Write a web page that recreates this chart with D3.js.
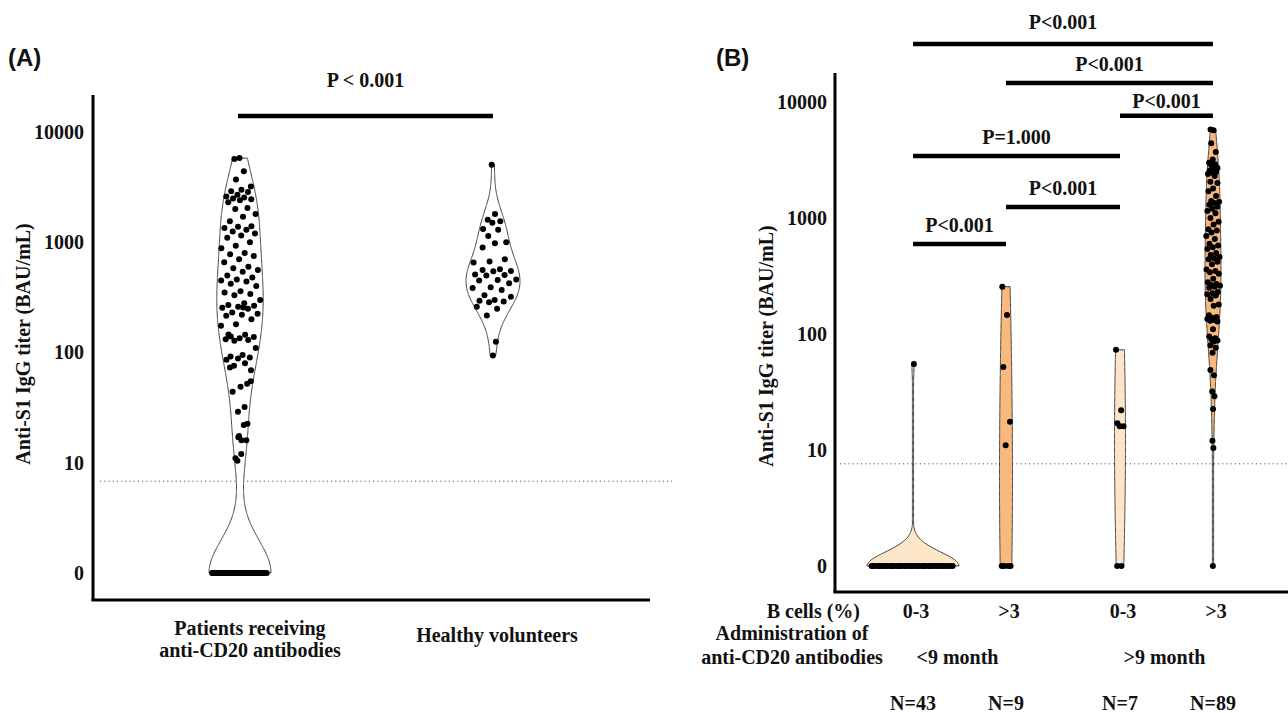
<!DOCTYPE html>
<html>
<head>
<meta charset="utf-8">
<script src="https://cdn.jsdelivr.net/npm/d3@7"></script>
<style>
  body { margin: 0; background: #fff; }
  text { font-family: "Liberation Serif", "Times New Roman", serif; font-weight: bold; fill: #111; font-size: 20px; }
  .panel { font-family: "Liberation Sans", Arial, sans-serif; font-size: 24px; }
</style>
</head>
<body>
<div id="chart"></div>
<script>
// ---- data ----
let tickVals = [1, 10, 100, 1000, 10000]
let tickLabels = ["0", "10", "100", "1000", "10000"]
let yTitle = "Anti-S1 IgG titer (BAU/mL)"

// panel A categories
let groupsA = ["Patients receiving|anti-CD20 antibodies", "Healthy volunteers"]

// panel B groups
let bCells = ["0-3", ">3", "0-3", ">3"]
let adminMonths = ["<9 month", "<9 month", ">9 month", ">9 month"]
let nLabels = ["N=43", "N=9", "N=7", "N=89"]

// titers (BAU/mL), 0 = below detection
let grp1 = [0, 0, 0, 0, 0, 0, 0, 0, 0, 0, 0, 0, 0, 0, 0, 0, 0, 0, 0, 0, 0,
            0, 0, 0, 0, 0, 0, 0, 0, 0, 0, 0, 0, 0, 0, 0, 0, 0, 0, 0, 0, 0, 55]
let grp2 = [256, 146, 52, 17.5, 11, 0, 0, 0, 0]
let grp3 = [73, 22, 17, 16, 16, 0, 0]
let grp4 = [5800, 5700, 4400, 3700, 3200, 3000, 2900, 2850, 2700, 2600,
            2550, 2500, 2450, 2400, 2300, 2050, 2000, 1800, 1700, 1550,
            1400, 1380, 1350, 1300, 1250, 1200, 1150, 1100, 1000, 930,
            880, 800, 780, 750, 700, 660, 600, 580, 560, 540,
            500, 480, 460, 450, 440, 420, 400, 360, 350, 340,
            330, 300, 280, 270, 265, 260, 255, 250, 230, 225,
            220, 215, 200, 180, 175, 145, 140, 138, 135, 132,
            130, 128, 110, 95, 92, 90, 88, 86, 80, 76,
            69, 49, 44, 32, 29, 22.6, 12, 10.4, 0]
let healthy = [5050, 1800, 1600, 1550, 1500, 1320, 1300, 1140, 1000, 980,
               895, 700, 670, 655, 570, 560, 550, 545, 510, 505,
               500, 460, 455, 450, 424, 390, 385, 369, 330, 320,
               300, 295, 290, 285, 260, 250, 217, 125, 94]
let patients = grp1.concat(grp2, grp3, grp4)

let cutoffA = 6.8, cutoffB = 7.6

// significance brackets: [from, to, height (BAU/mL), label, text gap]
let sigA = [[0, 1, 14000, "P < 0.001", 29]]
let sigB = [[0, 3, 31600, "P<0.001", 15],
            [1, 3, 14600, "P<0.001", 12],
            [2, 3, 7600, "P<0.001", 8],
            [0, 2, 3420, "P=1.000", 12],
            [1, 2, 1245, "P<0.001", 12],
            [0, 1, 597, "P<0.001", 12]]

let svg = d3.select("#chart").append("svg")
    .attr("width", 1288)
    .attr("height", 713)

let toVal = v => v <= 0 ? 1 : v

// draw one violin with jittered dots
function violin(g, vals, cx, y, maxW, bw, fill) {
    let lv = vals.map(v => Math.log10(toVal(v)))
    let lo = d3.min(lv), hi = d3.max(lv)
    let grid = d3.range(lo, hi, 0.01).concat([hi])
    let dens = grid.map(t => d3.sum(lv, x => Math.exp(-0.5 * ((t - x) / bw) ** 2)))
    let k = maxW / d3.max(dens)
    let pts = grid.map((t, i) => [t, Math.max(dens[i] * k, 0.6)])

    let area = d3.area()
        .x0(d => cx - d[1])
        .x1(d => cx + d[1])
        .y(d => y(Math.pow(10, d[0])))

    g.append("path").datum(pts)
        .attr("d", area)
        .attr("fill", fill)
        .attr("stroke", "#444")
        .attr("stroke-width", 1)

    let wAt = t => pts[Math.max(0, Math.min(pts.length - 1, Math.round((t - lo) / 0.01)))][1]
    g.selectAll(null)
        .data(lv)
        .enter()
        .append("circle")
        .attr("cx", (t, i) => cx + (((i * 0.6180339) % 1) * 2 - 1) * wAt(t) * 0.9)
        .attr("cy", t => y(Math.pow(10, t)))
        .attr("r", 3)
        .attr("fill", "#000")
}

function sigBar(g, x1, x2, yy, label, gap) {
    g.append("line")
        .attr("x1", x1).attr("x2", x2)
        .attr("y1", yy).attr("y2", yy)
        .attr("stroke", "#000").attr("stroke-width", 4.5)
    g.append("text")
        .attr("x", (x1 + x2) / 2)
        .attr("y", yy - gap)
        .attr("text-anchor", "middle")
        .text(label)
}

// ================= panel A =================
let gA = svg.append("g")
let yA = d3.scaleLog().domain([1, 10000]).range([573, 132])
let xA = d3.scalePoint().domain(groupsA).range([240, 493])

gA.append("text").attr("class", "panel").attr("x", 8).attr("y", 66).text("(A)")

gA.append("g")
    .attr("transform", "translate(93,0)")
    .call(d3.axisLeft(yA).tickValues(tickVals).tickSize(0).tickPadding(9)
        .tickFormat((d, i) => tickLabels[i]))
    .call(a => a.select(".domain").remove())
    .selectAll("text")
    .style("font-size", "20px")
    .style("font-family", "Liberation Serif")

gA.append("line").attr("x1", 93).attr("x2", 93).attr("y1", 95).attr("y2", 601)
    .attr("stroke", "#000").attr("stroke-width", 3)
gA.append("line").attr("x1", 91.5).attr("x2", 650).attr("y1", 600).attr("y2", 600)
    .attr("stroke", "#000").attr("stroke-width", 3)

gA.append("text")
    .attr("transform", "translate(30,344) rotate(-90)")
    .attr("text-anchor", "middle")
    .text(yTitle)

gA.append("line")
    .attr("x1", 100).attr("x2", 672)
    .attr("y1", yA(cutoffA)).attr("y2", yA(cutoffA))
    .attr("stroke", "#555").attr("stroke-width", 1).attr("stroke-dasharray", "1.2,3")

violin(gA, patients, xA(groupsA[0]), yA, 31, 0.3, "#fff")
violin(gA, healthy, xA(groupsA[1]), yA, 27, 0.18, "#fff")

sigA.forEach(s => sigBar(gA, xA(groupsA[s[0]]) - 2, xA(groupsA[s[1]]), yA(s[2]), s[3], s[4]))

groupsA.forEach((name, i) => {
    let lines = name.split("|")
    let lx = xA(name) + (i == 0 ? 10 : 4)
    let t = gA.append("text")
        .attr("x", lx)
        .attr("y", lines.length > 1 ? 635 : 642)
        .attr("text-anchor", "middle")
    lines.forEach((l, j) => t.append("tspan")
        .attr("x", lx)
        .attr("dy", j ? 22 : 0)
        .text(l))
})

// ================= panel B =================
let gB = svg.append("g")
let yB = d3.scaleLog().domain([1, 10000]).range([566, 102])
let monthKeys = ["<9 month", ">9 month"]
let xMonth = d3.scaleBand().domain(monthKeys).range([856, 1270])
let xCell = d3.scalePoint().domain(["0-3", ">3"]).range([0, xMonth.bandwidth()]).padding(0.613)
let xB = i => xMonth(adminMonths[i]) + xCell(bCells[i])

gB.append("text").attr("class", "panel").attr("x", 716).attr("y", 66).text("(B)")

gB.append("g")
    .attr("transform", "translate(835,0)")
    .call(d3.axisLeft(yB).tickValues(tickVals).tickSize(0).tickPadding(8)
        .tickFormat((d, i) => tickLabels[i]))
    .call(a => a.select(".domain").remove())
    .selectAll("text")
    .style("font-size", "20px")
    .style("font-family", "Liberation Serif")

gB.append("line").attr("x1", 835).attr("x2", 835).attr("y1", 73).attr("y2", 593)
    .attr("stroke", "#000").attr("stroke-width", 3)
gB.append("line").attr("x1", 833.5).attr("x2", 1288).attr("y1", 592).attr("y2", 592)
    .attr("stroke", "#000").attr("stroke-width", 3)

gB.append("text")
    .attr("transform", "translate(773,346) rotate(-90)")
    .attr("text-anchor", "middle")
    .text(yTitle)

gB.append("line")
    .attr("x1", 840).attr("x2", 1288)
    .attr("y1", yB(cutoffB)).attr("y2", yB(cutoffB))
    .attr("stroke", "#555").attr("stroke-width", 1).attr("stroke-dasharray", "1.2,3")

let groupsB = [grp1, grp2, grp3, grp4]
let fillsB = ["#fde6c8", "#f9b97d", "#fde6c8", "#f9b97d"]
let widthsB = [46, 6.5, 5.5, 8]
let bwB = [0.12, 1.0, 1.0, 0.3]
groupsB.forEach((vals, i) => violin(gB, vals, xB(i), yB, widthsB[i], bwB[i], fillsB[i]))

sigB.forEach(s => sigBar(gB, xB(s[0]), xB(s[1]), yB(s[2]), s[3], s[4]))

// category rows
gB.append("text").attr("x", 860).attr("y", 618).attr("text-anchor", "end").text("B cells (%)")
gB.append("text").attr("x", 792).attr("y", 640).attr("text-anchor", "middle").text("Administration of")
gB.append("text").attr("x", 792).attr("y", 664).attr("text-anchor", "middle").text("anti-CD20 antibodies")

bCells.forEach((c, i) => gB.append("text")
    .attr("x", xB(i) + 3).attr("y", 618).attr("text-anchor", "middle").text(c))

monthKeys.forEach(m => gB.append("text")
    .attr("x", xMonth(m) + xMonth.bandwidth() / 2 - 2).attr("y", 664).attr("text-anchor", "middle").text(m))

nLabels.forEach((n, i) => gB.append("text")
    .attr("x", xB(i)).attr("y", 710).attr("text-anchor", "middle").text(n))
</script>
</body>
</html>
